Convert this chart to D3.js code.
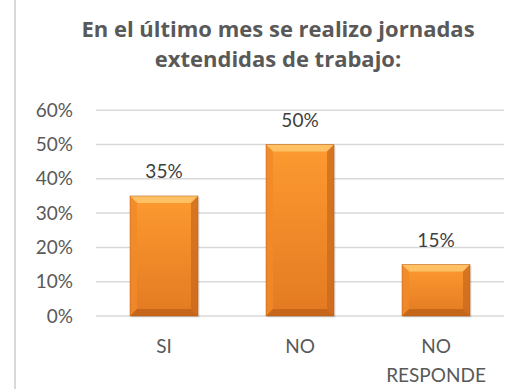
<!DOCTYPE html>
<html>
<head>
<meta charset="utf-8">
<script src="https://cdn.jsdelivr.net/npm/d3@7"></script>
<style>
  html, body { margin: 0; padding: 0; background: #fff; }
  svg { display: block; }
</style>
</head>
<body>
<svg id="chart" width="510" height="389"></svg>
<script>
// Survey answers and their shares
const categories = ["SI", "NO", "NO\nRESPONDE"];
const values = [0.35, 0.50, 0.15];
const tickValues = [0, 0.1, 0.2, 0.3, 0.4, 0.5, 0.6];
const titleLines = ["En el último mes se realizo jornadas", "extendidas de trabajo:"];

const W = 510, H = 389;
const svg = d3.select("#chart");
const font = "Lato, 'Open Sans', sans-serif";
const titleFont = "'Open Sans', Lato, sans-serif";

const x = d3.scaleBand().domain(categories).range([96, 504])
  .paddingInner(0.5).paddingOuter(0.25);
const y = d3.scaleLinear().domain([0, 0.6]).range([316, 110.2]);

// Frame line on the left
svg.append("line")
  .attr("x1", 15).attr("x2", 15).attr("y1", 0).attr("y2", H)
  .attr("stroke", "#d9d9d9").attr("stroke-width", 2);

// Title
svg.append("text")
  .attr("text-anchor", "middle")
  .attr("font-family", titleFont).attr("font-weight", "bold")
  .attr("font-size", 22).attr("fill", "#595959")
  .selectAll("tspan").data(titleLines).join("tspan")
  .attr("x", 278).attr("y", (d, i) => 37 + i * 30)
  .text(d => d);

// Gridlines
svg.append("g").selectAll("line").data(tickValues).join("line")
  .attr("x1", 96).attr("x2", 504)
  .attr("y1", d => y(d)).attr("y2", d => y(d))
  .attr("stroke", "#d9d9d9").attr("stroke-width", 1.5);

// Y axis labels
const yAxis = d3.axisLeft(y).tickValues(tickValues)
  .tickFormat(d3.format(".0%")).tickSize(0).tickPadding(0);
const gy = svg.append("g").attr("transform", "translate(73,0)").call(yAxis);
gy.select(".domain").remove();
gy.selectAll("text")
  .attr("font-family", font).attr("font-size", 19).attr("fill", "#595959");

// Bar gradients
const defs = svg.append("defs");
const body = defs.append("linearGradient").attr("id", "barBody")
  .attr("x1", 0).attr("y1", 0).attr("x2", 0).attr("y2", 1);
body.append("stop").attr("offset", "0%").attr("stop-color", "#fd9a30");
body.append("stop").attr("offset", "100%").attr("stop-color", "#e37a22");

const bev = 7;
const bars = svg.append("g").selectAll("g").data(categories).join("g");
bars.each(function (c, i) {
  const g = d3.select(this);
  const x0 = x(c), w = x.bandwidth();
  const y0 = y(values[i]), y1 = y(0);
  // soft shadow
  g.append("rect").attr("x", x0 + 1.5).attr("y", y0 + 1.5)
    .attr("width", w).attr("height", y1 - y0)
    .attr("fill", "#000").attr("opacity", 0.12);
  g.append("rect").attr("x", x0).attr("y", y0)
    .attr("width", w).attr("height", y1 - y0)
    .attr("fill", "url(#barBody)");
  // bevel facets
  const facet = (pts, col, op) => g.append("polygon")
    .attr("points", pts.map(p => p.join(",")).join(" "))
    .attr("fill", col).attr("opacity", op);
  facet([[x0, y0], [x0 + w, y0], [x0 + w - bev, y0 + bev], [x0 + bev, y0 + bev]], "#ffc56a", 0.9);
  facet([[x0, y0], [x0 + bev, y0 + bev], [x0 + bev, y1 - bev], [x0, y1]], "#f08a2a", 0.8);
  facet([[x0 + w, y0], [x0 + w, y1], [x0 + w - bev, y1 - bev], [x0 + w - bev, y0 + bev]], "#c9661a", 0.7);
  facet([[x0, y1], [x0 + bev, y1 - bev], [x0 + w - bev, y1 - bev], [x0 + w, y1]], "#b85e17", 0.7);
  g.append("rect").attr("x", x0).attr("y", y0)
    .attr("width", w).attr("height", y1 - y0)
    .attr("fill", "none").attr("stroke", "#b35a14").attr("stroke-width", 0.8).attr("opacity", 0.6);
});

// Value labels
svg.append("g").selectAll("text").data(categories).join("text")
  .attr("x", c => x(c) + x.bandwidth() / 2)
  .attr("y", (c, i) => y(values[i]) - 18)
  .attr("text-anchor", "middle")
  .attr("font-family", font).attr("font-size", 19).attr("fill", "#404040")
  .text((c, i) => d3.format(".0%")(values[i]));

// Category labels
svg.append("g").selectAll("text").data(categories).join("text")
  .attr("text-anchor", "middle")
  .attr("font-family", font).attr("font-size", 19).attr("fill", "#595959")
  .each(function (c) {
    d3.select(this).selectAll("tspan").data(c.split("\n")).join("tspan")
      .attr("x", x(c) + x.bandwidth() / 2)
      .attr("y", (d, i) => 353 + i * 29)
      .text(d => d);
  });
</script>
</body>
</html>
